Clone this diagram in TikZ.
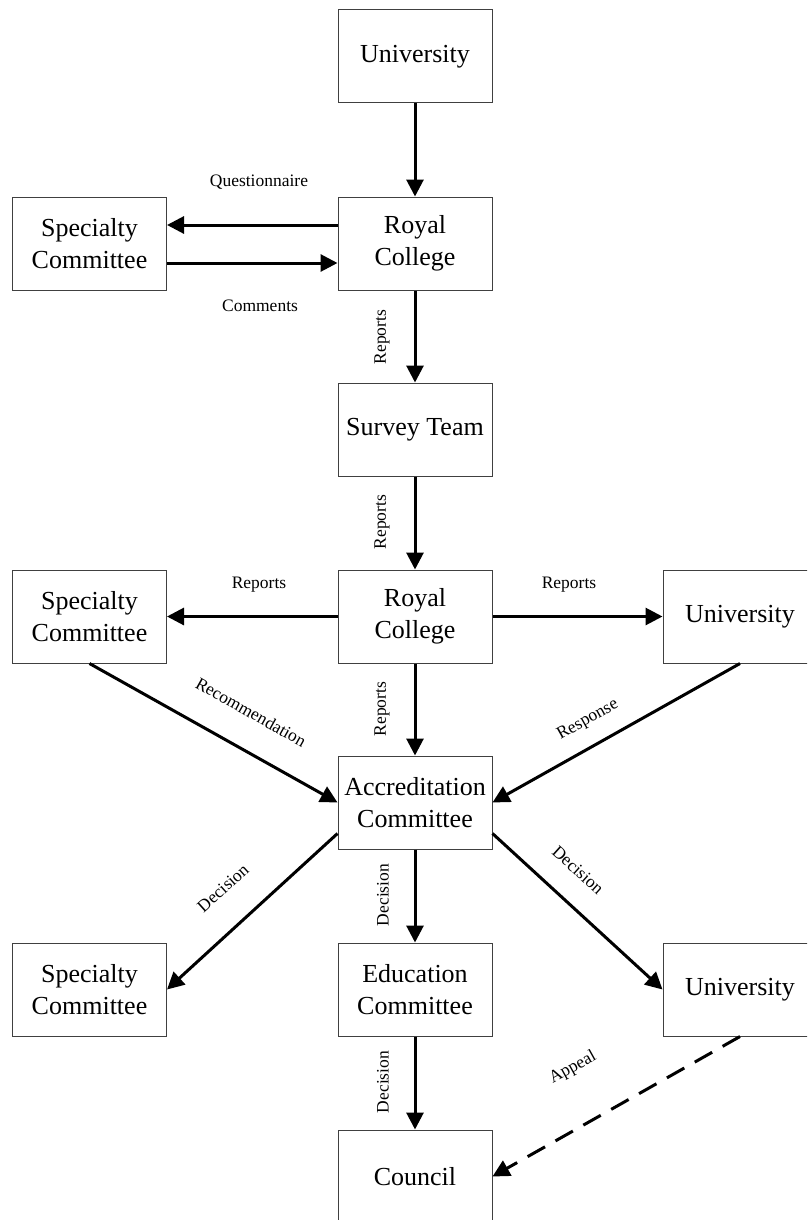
\documentclass[tikz,border=0pt]{standalone}
\usepackage{fontspec}
\setmainfont{Liberation Serif}
\usetikzlibrary{arrows.meta}
\begin{document}
\begin{tikzpicture}[x=1pt,y=-1pt,
  box/.style={draw=black!75,line width=1pt,minimum width=154pt,minimum height=93pt,
    align=center,inner sep=0pt,font=\fontsize{26}{32}\selectfont},
  lbl/.style={inner sep=0pt,font=\fontsize{17.5}{19}\selectfont},
  conn/.style={line width=3pt,-{Triangle[length=17pt,width=17pt]}},
  dashconn/.style={conn,dash pattern=on 20pt off 12pt}]
\useasboundingbox (0,0) rectangle (807,1220);
\clip (0,0) rectangle (807,1220);
\node[box] (u1) at (415,56.5) {University};
\node[box] (rc1) at (415,243.5) {Royal\\College};
\node[box] (sc1) at (89.5,243.5) {Specialty\\Committee};
\node[box] (st) at (415,429.5) {Survey Team};
\node[box] (rc2) at (415,616.5) {Royal\\College};
\node[box] (sc2) at (89.5,616.5) {Specialty\\Committee};
\node[box] (u2) at (740,616.5) {University};
\node[box] (acc) at (415,802.5) {Accreditation\\Committee};
\node[box] (sc3) at (89.5,989.5) {Specialty\\Committee};
\node[box] (edu) at (415,989.5) {Education\\Committee};
\node[box] (u3) at (740,989.5) {University};
\node[box] (co) at (415,1176.5) {Council};

\draw[conn] (u1.south) -- (rc1.north);
\draw[conn] ([yshift=18.5pt]rc1.west) -- ([yshift=18.5pt]sc1.east);
\draw[conn] ([yshift=-19.5pt]sc1.east) -- ([yshift=-19.5pt]rc1.west);
\draw[conn] (rc1.south) -- (st.north);
\draw[conn] (st.south) -- (rc2.north);
\draw[conn] (rc2.west) -- (sc2.east);
\draw[conn] (rc2.east) -- (u2.west);
\draw[conn] (rc2.south) -- (acc.north);
\draw[conn] (sc2.south) -- (acc.west);
\draw[conn] (u2.south) -- (acc.east);
\draw[conn] ([yshift=16pt]acc.south west) -- (sc3.east);
\draw[conn] (acc.south) -- (edu.north);
\draw[conn] ([yshift=16pt]acc.south east) -- (u3.west);
\draw[conn] (edu.south) -- (co.north);
\draw[dashconn] (u3.south) -- (co.east);

\node[lbl] (l1) at (259,182) {Questionnaire};
\node[lbl] (l2) at (260,306) {Comments};
\node[lbl,rotate=90] (l3) at (382,337) {Reports};
\node[lbl,rotate=90] (l4) at (382,522) {Reports};
\node[lbl] (l5) at (259,585) {Reports};
\node[lbl] (l6) at (569,585) {Reports};
\node[lbl,rotate=90] (l7) at (382,709) {Reports};
\node[lbl,rotate=-29.3] (l8) at (251,712) {Recommendation};
\node[lbl,rotate=29.3] (l9) at (588,720) {Response};
\node[lbl,rotate=42] (l10) at (223,888) {Decision};
\node[lbl,rotate=90] (l11) at (383,895) {Decision};
\node[lbl,rotate=-42] (l12) at (578,870) {Decision};
\node[lbl,rotate=90] (l13) at (383,1082) {Decision};
\node[lbl,rotate=29] (l14) at (573,1068) {Appeal};
\end{tikzpicture}
\end{document}
